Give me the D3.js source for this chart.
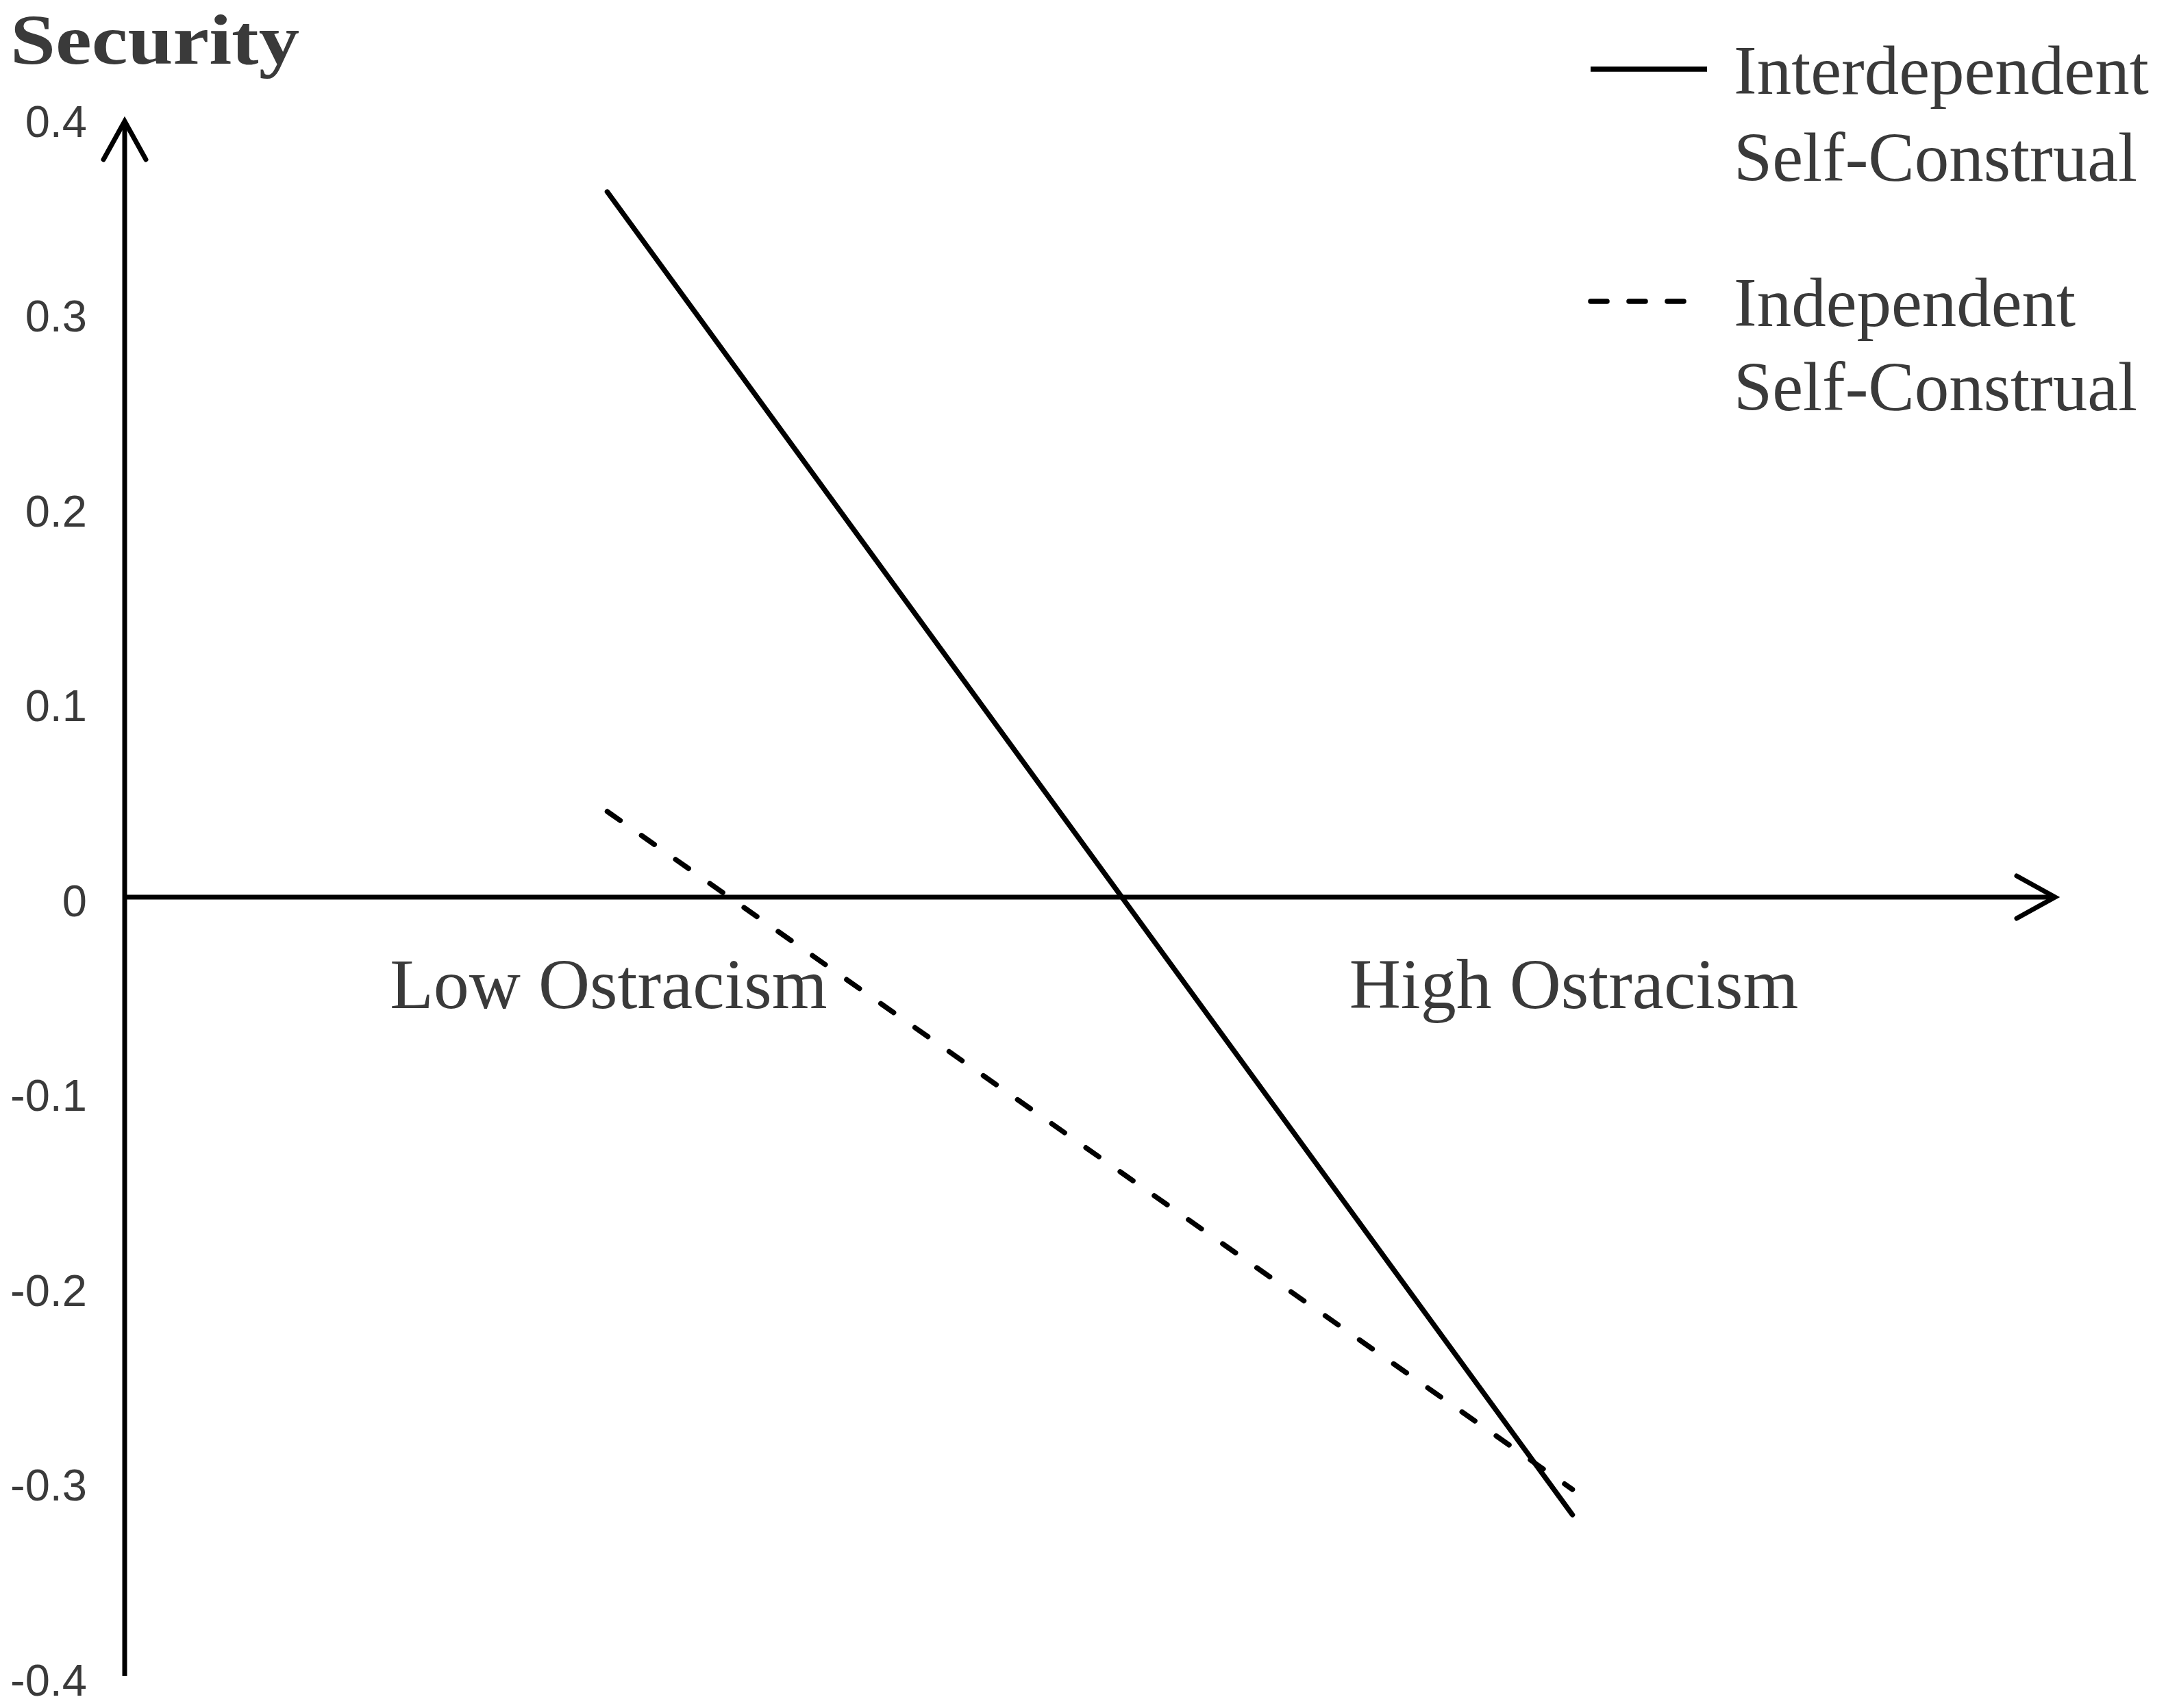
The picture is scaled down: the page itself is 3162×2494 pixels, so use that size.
<!DOCTYPE html>
<html>
<head>
<meta charset="utf-8">
<script src="https://cdn.jsdelivr.net/npm/d3@7"></script>
<style>
  html, body { margin: 0; padding: 0; background: #ffffff; }
  svg { display: block; }
</style>
</head>
<body>
<script>
// ---- data ----
const categories = ["Low Ostracism", "High Ostracism"];
const interdependent = [0.362, -0.317];
const independent = [0.044, -0.304];
const yTicks = [0.4, 0.3, 0.2, 0.1, 0, -0.1, -0.2, -0.3, -0.4];
const seriesNames = [["Interdependent", "Self-Construal"], ["Independent", "Self-Construal"]];
const yTitle = "Security";

const W = 3162, H = 2494;
const svg = d3.select("body").append("svg").attr("width", W).attr("height", H);

const axisX0 = 182, axisX1 = 3000;
const y = d3.scaleLinear().domain([0, 0.4]).range([1310, 172]);
const x = d3.scalePoint().domain(categories).range([axisX0, axisX1]).padding(0.5);

const ink = "#000";
const textCol = "#3a3a3a";

// y axis (line with arrow)
const axisW = 7;
svg.append("line").attr("x1", axisX0).attr("x2", axisX0)
  .attr("y1", y(0.4) + 5).attr("y2", 2447)
  .attr("stroke", ink).attr("stroke-width", axisW);
svg.append("path")
  .attr("d", `M${axisX0 - 31},${y(0.4) + 5 + 56} L${axisX0},${y(0.4) + 5} L${axisX0 + 31},${y(0.4) + 5 + 56}`)
  .attr("fill", "none").attr("stroke", ink).attr("stroke-width", axisW)
  .attr("stroke-linecap", "round").attr("stroke-linejoin", "miter");

// x axis (line with arrow)
svg.append("line").attr("x1", axisX0).attr("x2", axisX1)
  .attr("y1", y(0)).attr("y2", y(0))
  .attr("stroke", ink).attr("stroke-width", axisW);
svg.append("path")
  .attr("d", `M${axisX1 - 56},${y(0) - 31} L${axisX1},${y(0)} L${axisX1 - 56},${y(0) + 31}`)
  .attr("fill", "none").attr("stroke", ink).attr("stroke-width", axisW)
  .attr("stroke-linecap", "round").attr("stroke-linejoin", "miter");

// y tick labels (no tick marks)
svg.append("g").selectAll("text").data(yTicks).join("text")
  .attr("x", 127).attr("y", d => y(d) + 5)
  .attr("text-anchor", "end").attr("dominant-baseline", "central")
  .attr("font-family", "Liberation Sans, Arial, sans-serif")
  .attr("font-size", 65).attr("fill", textCol)
  .text(d => d === 0 ? "0" : d.toFixed(1));

// y title
svg.append("text").attr("x", 15).attr("y", 93)
  .attr("font-family", "Liberation Serif, 'Times New Roman', serif")
  .attr("font-weight", "bold").attr("font-size", 104)
  .attr("textLength", 422).attr("lengthAdjust", "spacingAndGlyphs")
  .attr("fill", textCol).text(yTitle);

// category labels
svg.append("g").selectAll("text").data(categories).join("text")
  .attr("x", d => x(d) + 2).attr("y", 1472)
  .attr("text-anchor", "middle")
  .attr("font-family", "Liberation Serif, 'Times New Roman', serif")
  .attr("font-size", 104).attr("fill", textCol)
  .text(d => d);

// series lines
const line = d3.line().x((d, i) => x(categories[i])).y(d => y(d));
svg.append("path").datum(interdependent).attr("d", line)
  .attr("fill", "none").attr("stroke", ink).attr("stroke-width", 7.5)
  .attr("stroke-linecap", "round");
svg.append("path").datum(independent).attr("d", line)
  .attr("fill", "none").attr("stroke", ink).attr("stroke-width", 7.5)
  .attr("stroke-linecap", "round").attr("stroke-dasharray", "23,38");

// legend
const legend = svg.append("g");
const legendItems = [
  { names: seriesNames[0], dash: null, ly: 101, by: [137, 264] },
  { names: seriesNames[1], dash: "24,32", ly: 440, by: [476, 599] }
];
legendItems.forEach(it => {
  legend.append("line")
    .attr("x1", 2322).attr("x2", it.dash ? 2470 : 2492)
    .attr("y1", it.ly).attr("y2", it.ly)
    .attr("stroke", ink).attr("stroke-width", 7.5)
    .attr("stroke-linecap", it.dash ? "round" : "butt")
    .attr("stroke-dasharray", it.dash);
  it.names.forEach((n, j) => {
    legend.append("text").attr("x", 2531).attr("y", it.by[j])
      .attr("font-family", "Liberation Serif, 'Times New Roman', serif")
      .attr("font-size", 101).attr("fill", textCol)
      .text(n);
  });
});
</script>
</body>
</html>
